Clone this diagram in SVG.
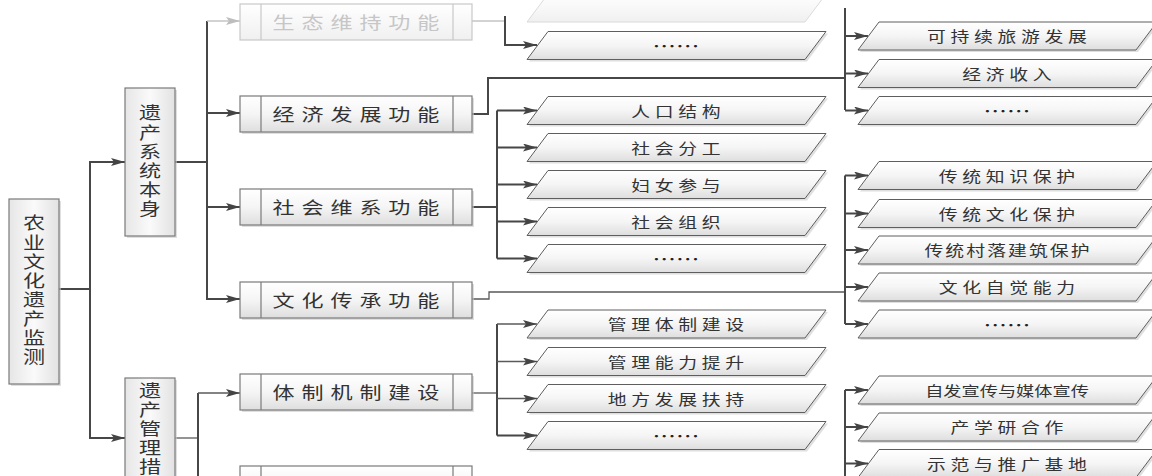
<svg xmlns="http://www.w3.org/2000/svg" xmlns:xlink="http://www.w3.org/1999/xlink" width="1152" height="476" viewBox="0 0 1152 476">
<defs>
<linearGradient id="gv" x1="0" y1="0" x2="0" y2="1"><stop offset="0" stop-color="#ffffff"/><stop offset="0.5" stop-color="#f5f5f5"/><stop offset="1" stop-color="#dedede"/></linearGradient>
<linearGradient id="gh" x1="0" y1="0" x2="1" y2="0"><stop offset="0" stop-color="#e6e6e6"/><stop offset="0.5" stop-color="#fafafa"/><stop offset="1" stop-color="#e2e2e2"/></linearGradient>
<linearGradient id="gf" x1="0" y1="0" x2="0" y2="1"><stop offset="0" stop-color="#ffffff"/><stop offset="1" stop-color="#f0f0f0"/></linearGradient>
<path id="pg" d="M0,28 L21,0 L299,0 L278,28 Z"/>
<marker id="ah" viewBox="0 0 14 8" refX="14" refY="4" markerWidth="14" markerHeight="8" markerUnits="userSpaceOnUse" orient="auto"><path d="M0,0 L14,4 L0,8 L3,4 Z" fill="#444"/></marker>
<marker id="ahf" viewBox="0 0 14 8" refX="14" refY="4" markerWidth="14" markerHeight="8" markerUnits="userSpaceOnUse" orient="auto"><path d="M0,0 L14,4 L0,8 L3,4 Z" fill="#bdbdbd"/></marker>
</defs>
<style>
.ln{fill:none;stroke:#474747;stroke-width:2}
.lt{fill:none;stroke:#5a5a5a;stroke-width:1.3}
.lf{fill:none;stroke:#c4c4c4;stroke-width:1.5}
.sh{fill:#c9c9c9;opacity:0.6}
.pb{fill:url(#gv);stroke:#5e5e5e;stroke-width:1}
.pbf{fill:url(#gf);stroke:#dadada;stroke-width:1}
.fb{fill:url(#gv);stroke:#7a7a7a;stroke-width:1.2}
.fbf{fill:url(#gf);stroke:#c8c8c8;stroke-width:1.2}
.dv{stroke:#7a7a7a;stroke-width:1.2}
.dvf{stroke:#c8c8c8;stroke-width:1.2}
.vb{fill:url(#gh);stroke:#7a7a7a;stroke-width:1.2}
text{font-family:"Noto Sans CJK SC","Noto Sans",sans-serif;fill:#333;text-anchor:middle;dominant-baseline:central}
.pt{font-size:14.5px;letter-spacing:3.6px}
.ft{font-size:17px;letter-spacing:5.3px}
.vt{font-size:17px;writing-mode:vertical-rl;text-anchor:start;letter-spacing:2.1px}
.el{font-size:18px;fill:#222}
.fd{fill:#c6c6c6}
</style>
<rect width="1152" height="476" fill="#ffffff"/>

<g id="connectors">
<path class="ln" d="M59,289 H90 V162 H125" marker-end="url(#ah)"/>
<path class="ln" d="M90,289 V438 H125" marker-end="url(#ah)"/>
<path class="ln" d="M175,162 H207 V113 H240" marker-end="url(#ah)"/>
<path class="ln" d="M207,113 V21"/>
<path class="lf" d="M207,21 H240" marker-end="url(#ahf)"/>
<path class="ln" d="M207,162 V207 H240" marker-end="url(#ah)"/>
<path class="ln" d="M207,207 V299 H240" marker-end="url(#ah)"/>
<path class="lf" d="M472,21 H505"/>
<path class="ln" d="M505,16 V45 H537" marker-end="url(#ah)"/>
<path class="ln" d="M472,114 H488 V78 H845"/>
<path class="ln" d="M845,8 V110"/>
<path class="ln" d="M845,36 H868" marker-end="url(#ah)"/>
<path class="ln" d="M845,73.5 H868" marker-end="url(#ah)"/>
<path class="ln" d="M845,110.5 H868" marker-end="url(#ah)"/>
<path class="ln" d="M472,207 H497"/>
<path class="ln" d="M497,110.5 V258.5"/>
<path class="ln" d="M497,110.5 H537" marker-end="url(#ah)"/>
<path class="ln" d="M497,147.5 H537" marker-end="url(#ah)"/>
<path class="ln" d="M497,184.5 H537" marker-end="url(#ah)"/>
<path class="ln" d="M497,221.5 H537" marker-end="url(#ah)"/>
<path class="ln" d="M497,258.5 H537" marker-end="url(#ah)"/>
<path class="lt" d="M472,299 H489 V292 H845"/>
<path class="ln" d="M845,175.5 V324"/>
<path class="ln" d="M845,175.5 H868" marker-end="url(#ah)"/>
<path class="ln" d="M845,213.5 H868" marker-end="url(#ah)"/>
<path class="ln" d="M845,250 H868" marker-end="url(#ah)"/>
<path class="ln" d="M845,287 H868" marker-end="url(#ah)"/>
<path class="ln" d="M845,324 H868" marker-end="url(#ah)"/>
<path class="lt" d="M175,438 H198"/>
<path class="ln" d="M198,393 V476"/>
<path class="lt" d="M198,393 H240" marker-end="url(#ah)"/>
<path class="lt" d="M472,393 H497"/>
<path class="ln" d="M497,324 V435.5"/>
<path class="lt" d="M497,324 H537" marker-end="url(#ah)"/>
<path class="lt" d="M497,361.5 H537" marker-end="url(#ah)"/>
<path class="lt" d="M497,398.5 H537" marker-end="url(#ah)"/>
<path class="ln" d="M497,435.5 H537" marker-end="url(#ah)"/>
<path class="ln" d="M845,390 V476"/>
<path class="ln" d="M845,390 H868" marker-end="url(#ah)"/>
<path class="ln" d="M845,427 H868" marker-end="url(#ah)"/>
<path class="ln" d="M845,463.5 H868" marker-end="url(#ah)"/>
</g>

<g id="n-root">
<rect class="sh" x="11" y="201" width="50" height="185"/>
<rect class="vb" x="9" y="199" width="50" height="185"/>
<text class="vt" transform="translate(34,0) scale(1.3,1)" x="0" y="214.5">农业文化遗产监测</text>
</g>
<g id="n-self">
<rect class="sh" x="127" y="90" width="50" height="148"/>
<rect class="vb" x="125" y="88" width="50" height="148"/>
<text class="vt" transform="translate(150,0) scale(1.3,1)" x="0" y="104.5">遗产系统本身</text>
</g>
<g id="n-mgmt">
<rect class="sh" x="127" y="380" width="50" height="110"/>
<rect class="vb" x="125" y="378" width="50" height="110"/>
<text class="vt" transform="translate(150,0) scale(1.3,1)" x="0" y="382">遗产管理措</text>
</g>

<g id="f-eco">
<rect class="fbf" x="240" y="4" width="232" height="36"/>
<line class="dvf" x1="261" y1="4" x2="261" y2="40"/><line class="dvf" x1="453" y1="4" x2="453" y2="40"/>
<text class="ft fd" transform="translate(356,22) scale(1.3,1)" x="2.6">生态维持功能</text>
</g>
<g id="f-econ">
<rect class="sh" x="242" y="98" width="232" height="36"/>
<rect class="fb" x="240" y="96" width="232" height="36"/>
<line class="dv" x1="261" y1="96" x2="261" y2="132"/><line class="dv" x1="453" y1="96" x2="453" y2="132"/>
<text class="ft" transform="translate(356,114) scale(1.3,1)" x="2.6">经济发展功能</text>
</g>
<g id="f-soc">
<rect class="sh" x="242" y="191" width="232" height="36"/>
<rect class="fb" x="240" y="189" width="232" height="36"/>
<line class="dv" x1="261" y1="189" x2="261" y2="225"/><line class="dv" x1="453" y1="189" x2="453" y2="225"/>
<text class="ft" transform="translate(356,207) scale(1.3,1)" x="2.6">社会维系功能</text>
</g>
<g id="f-cul">
<rect class="sh" x="242" y="284" width="232" height="36"/>
<rect class="fb" x="240" y="282" width="232" height="36"/>
<line class="dv" x1="261" y1="282" x2="261" y2="318"/><line class="dv" x1="453" y1="282" x2="453" y2="318"/>
<text class="ft" transform="translate(356,300) scale(1.3,1)" x="2.6">文化传承功能</text>
</g>
<g id="f-inst">
<rect class="sh" x="242" y="376" width="232" height="36"/>
<rect class="fb" x="240" y="374" width="232" height="36"/>
<line class="dv" x1="261" y1="374" x2="261" y2="410"/><line class="dv" x1="453" y1="374" x2="453" y2="410"/>
<text class="ft" transform="translate(356,392) scale(1.3,1)" x="2.6">体制机制建设</text>
</g>
<g id="f-next">
<rect class="fb" x="240" y="466" width="232" height="36"/>
<line class="dv" x1="261" y1="466" x2="261" y2="502"/><line class="dv" x1="453" y1="466" x2="453" y2="502"/>
</g>

<g id="m-faded"><use href="#pg" class="pbf" x="527" y="-6"/></g>
<g id="m-e1"><use href="#pg" class="sh" x="529" y="33.5"/><use href="#pg" class="pb" x="527" y="31.5"/><text class="el" transform="translate(676,45.5) scale(1.3,1)">……</text></g>
<g id="m-s1"><use href="#pg" class="sh" x="529" y="98.5"/><use href="#pg" class="pb" x="527" y="96.5"/><text class="pt" transform="translate(676,110.5) scale(1.3,1)" x="1.8">人口结构</text></g>
<g id="m-s2"><use href="#pg" class="sh" x="529" y="135.5"/><use href="#pg" class="pb" x="527" y="133.5"/><text class="pt" transform="translate(676,147.5) scale(1.3,1)" x="1.8">社会分工</text></g>
<g id="m-s3"><use href="#pg" class="sh" x="529" y="172.5"/><use href="#pg" class="pb" x="527" y="170.5"/><text class="pt" transform="translate(676,184.5) scale(1.3,1)" x="1.8">妇女参与</text></g>
<g id="m-s4"><use href="#pg" class="sh" x="529" y="209.5"/><use href="#pg" class="pb" x="527" y="207.5"/><text class="pt" transform="translate(676,221.5) scale(1.3,1)" x="1.8">社会组织</text></g>
<g id="m-s5"><use href="#pg" class="sh" x="529" y="246.5"/><use href="#pg" class="pb" x="527" y="244.5"/><text class="el" transform="translate(676,258.5) scale(1.3,1)">……</text></g>
<g id="m-i1"><use href="#pg" class="sh" x="529" y="312"/><use href="#pg" class="pb" x="527" y="310"/><text class="pt" transform="translate(676,324) scale(1.3,1)" x="1.8">管理体制建设</text></g>
<g id="m-i2"><use href="#pg" class="sh" x="529" y="349.5"/><use href="#pg" class="pb" x="527" y="347.5"/><text class="pt" transform="translate(676,361.5) scale(1.3,1)" x="1.8">管理能力提升</text></g>
<g id="m-i3"><use href="#pg" class="sh" x="529" y="386.5"/><use href="#pg" class="pb" x="527" y="384.5"/><text class="pt" transform="translate(676,398.5) scale(1.3,1)" x="1.8">地方发展扶持</text></g>
<g id="m-i4"><use href="#pg" class="sh" x="529" y="423.5"/><use href="#pg" class="pb" x="527" y="421.5"/><text class="el" transform="translate(676,435.5) scale(1.3,1)">……</text></g>

<g id="r-e1"><use href="#pg" class="sh" x="860" y="24"/><use href="#pg" class="pb" x="858" y="22"/><text class="pt" transform="translate(1007,36) scale(1.3,1)" x="1.8">可持续旅游发展</text></g>
<g id="r-e2"><use href="#pg" class="sh" x="860" y="61.5"/><use href="#pg" class="pb" x="858" y="59.5"/><text class="pt" transform="translate(1007,73.5) scale(1.3,1)" x="1.8">经济收入</text></g>
<g id="r-e3"><use href="#pg" class="sh" x="860" y="98.5"/><use href="#pg" class="pb" x="858" y="96.5"/><text class="el" transform="translate(1007,110.5) scale(1.3,1)">……</text></g>
<g id="r-c1"><use href="#pg" class="sh" x="860" y="163.5"/><use href="#pg" class="pb" x="858" y="161.5"/><text class="pt" transform="translate(1007,175.5) scale(1.3,1)" x="1.8">传统知识保护</text></g>
<g id="r-c2"><use href="#pg" class="sh" x="860" y="201.5"/><use href="#pg" class="pb" x="858" y="199.5"/><text class="pt" transform="translate(1007,213.5) scale(1.3,1)" x="1.8">传统文化保护</text></g>
<g id="r-c3"><use href="#pg" class="sh" x="860" y="238"/><use href="#pg" class="pb" x="858" y="236"/><text class="pt" transform="translate(1007,250) scale(1.3,1)" x="0.8" style="letter-spacing:1.6px">传统村落建筑保护</text></g>
<g id="r-c4"><use href="#pg" class="sh" x="860" y="275"/><use href="#pg" class="pb" x="858" y="273"/><text class="pt" transform="translate(1007,287) scale(1.3,1)" x="1.8">文化自觉能力</text></g>
<g id="r-c5"><use href="#pg" class="sh" x="860" y="312"/><use href="#pg" class="pb" x="858" y="310"/><text class="el" transform="translate(1007,324) scale(1.3,1)">……</text></g>
<g id="r-p1"><use href="#pg" class="sh" x="860" y="378"/><use href="#pg" class="pb" x="858" y="376"/><text class="pt" transform="translate(1007,390) scale(1.3,1)" style="font-size:14px;letter-spacing:0px">自发宣传与媒体宣传</text></g>
<g id="r-p2"><use href="#pg" class="sh" x="860" y="415"/><use href="#pg" class="pb" x="858" y="413"/><text class="pt" transform="translate(1007,427) scale(1.3,1)" x="1.8">产学研合作</text></g>
<g id="r-p3"><use href="#pg" class="sh" x="860" y="451.5"/><use href="#pg" class="pb" x="858" y="449.5"/><text class="pt" transform="translate(1007,463.5) scale(1.3,1)" x="1.8">示范与推广基地</text></g>
</svg>
